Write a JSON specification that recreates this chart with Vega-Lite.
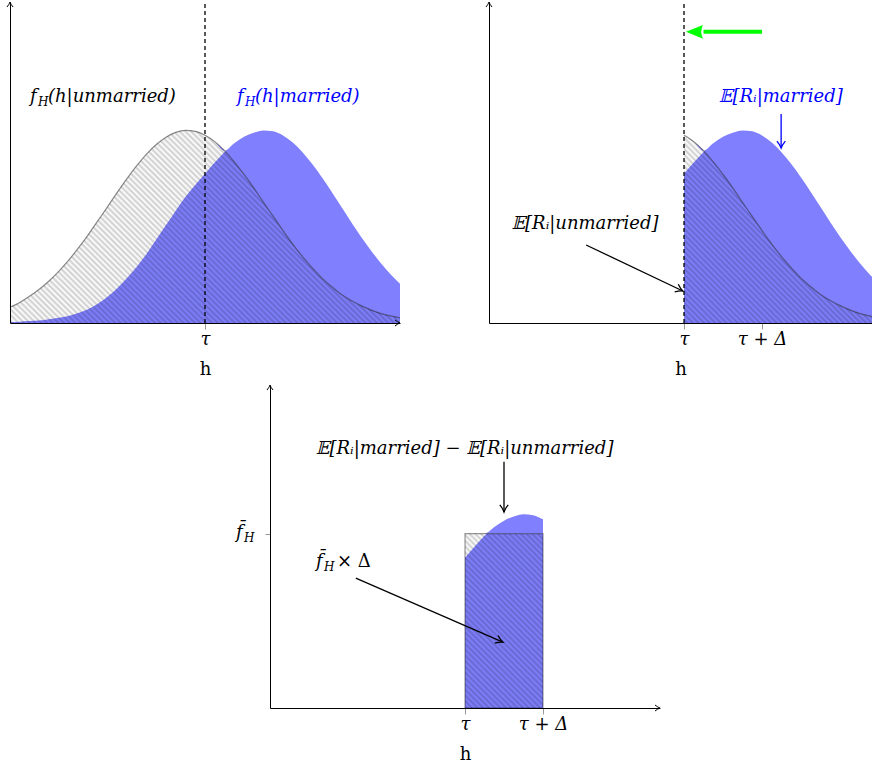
{
"$schema":"https://vega.github.io/schema/vega-lite/v6.json",
"padding":{"left":5,"top":0,"right":0,"bottom":0},
"spacing":5,
"datasets":{
"curves":[
{"x":0,"u":0.049,"m":0.003,"mb":0.049},{"x":0.25,"u":0.064,"m":0.004,"mb":0.064},{"x":0.5,"u":0.083,"m":0.006,"mb":0.083},{"x":0.75,"u":0.105,"m":0.008,"mb":0.105},
{"x":1,"u":0.131,"m":0.012,"mb":0.131},{"x":1.25,"u":0.161,"m":0.016,"mb":0.161},{"x":1.5,"u":0.195,"m":0.022,"mb":0.195},{"x":1.75,"u":0.233,"m":0.031,"mb":0.233},
{"x":2,"u":0.274,"m":0.043,"mb":0.274},{"x":2.25,"u":0.318,"m":0.06,"mb":0.318},{"x":2.5,"u":0.362,"m":0.082,"mb":0.362},{"x":2.75,"u":0.407,"m":0.108,"mb":0.407},
{"x":3,"u":0.45,"m":0.14,"mb":0.45},{"x":3.25,"u":0.49,"m":0.175,"mb":0.49},{"x":3.5,"u":0.526,"m":0.215,"mb":0.526},{"x":3.75,"u":0.556,"m":0.26,"mb":0.556},
{"x":4,"u":0.579,"m":0.305,"mb":0.579},{"x":4.25,"u":0.594,"m":0.35,"mb":0.594},{"x":4.5,"u":0.6,"m":0.393,"mb":0.6},{"x":4.75,"u":0.597,"m":0.43,"mb":0.597},
{"x":5,"u":0.585,"m":0.465,"mb":0.585},{"x":5.25,"u":0.565,"m":0.5,"mb":0.565},{"x":5.5,"u":0.537,"m":0.533,"mb":0.537},{"x":5.75,"u":0.502,"m":0.56,"mb":0.56},
{"x":6,"u":0.463,"m":0.58,"mb":0.58},{"x":6.25,"u":0.421,"m":0.593,"mb":0.593},{"x":6.5,"u":0.376,"m":0.6,"mb":0.6},{"x":6.75,"u":0.332,"m":0.597,"mb":0.597},
{"x":7,"u":0.288,"m":0.584,"mb":0.584},{"x":7.25,"u":0.246,"m":0.562,"mb":0.562},{"x":7.5,"u":0.207,"m":0.532,"mb":0.532},{"x":7.75,"u":0.172,"m":0.495,"mb":0.495},
{"x":8,"u":0.14,"m":0.453,"mb":0.453},{"x":8.25,"u":0.113,"m":0.408,"mb":0.408},{"x":8.5,"u":0.089,"m":0.361,"mb":0.361},{"x":8.75,"u":0.07,"m":0.314,"mb":0.314},
{"x":9,"u":0.054,"m":0.269,"mb":0.269},{"x":9.25,"u":0.041,"m":0.227,"mb":0.227},{"x":9.5,"u":0.03,"m":0.188,"mb":0.188},{"x":9.75,"u":0.022,"m":0.153,"mb":0.153},
{"x":10,"u":0.016,"m":0.122,"mb":0.122}
],
"cc":[
{"x":5,"m":0.465,"mc":0.54},{"x":5.25,"m":0.5,"mc":0.54},{"x":5.5,"m":0.533,"mc":0.54},{"x":5.6,"m":0.545,"mc":0.545},{"x":5.75,"m":0.56,"mc":0.56},
{"x":6,"m":0.58,"mc":0.58},{"x":6.25,"m":0.593,"mc":0.593},{"x":6.5,"m":0.6,"mc":0.6},{"x":6.75,"m":0.597,"mc":0.597},{"x":7,"m":0.584,"mc":0.584}
]
},
"vconcat":[
{"bounds":"flush","hconcat":[
{"width":390,"height":321,"layer":[
{"data":{"name":"curves"},"mark":{"type":"area","color":"#8080ff","opacity":1,"interpolate":"monotone"},"encoding":{"x":{"field":"x","type":"quantitative","scale":{"domain":[0,10],"nice":false,"zero":false},"axis":{"values":[5],"labelExpr":"'τ'","title":"h","tickSize":6,"labelPadding":1,"titlePadding":12,"zindex":1}},"y":{"field":"m","type":"quantitative","scale":{"domain":[0,1],"nice":false,"zero":false},"axis":{"ticks":false,"labels":false,"title":null,"zindex":1}}}},
{"data":{"values":[{}]},"mark":{"type":"rect","opacity":1},"encoding":{"x":{"datum":0,"type":"quantitative","scale":{"domain":[0,10],"nice":false,"zero":false}},"x2":{"datum":10},"y":{"datum":0,"type":"quantitative","scale":{"domain":[0,1],"nice":false,"zero":false}},"y2":{"datum":1}}},
{"data":{"name":"curves"},"mark":{"type":"area","color":"#ffffff","opacity":1,"interpolate":"monotone"},"encoding":{"x":{"field":"x","type":"quantitative","scale":{"domain":[0,10],"nice":false,"zero":false}},"y":{"field":"u","type":"quantitative","scale":{"domain":[0,1],"nice":false,"zero":false}},"y2":{"datum":1}}},
{"data":{"name":"curves"},"mark":{"type":"area","color":"#8080ff","opacity":1,"interpolate":"monotone"},"encoding":{"x":{"field":"x","type":"quantitative","scale":{"domain":[0,10],"nice":false,"zero":false}},"y":{"field":"mb","type":"quantitative","scale":{"domain":[0,1],"nice":false,"zero":false}},"y2":{"field":"u"}}},
{"data":{"name":"curves"},"mark":{"type":"line","color":"#000","strokeOpacity":0.45,"strokeWidth":1.2,"interpolate":"monotone"},"encoding":{"x":{"field":"x","type":"quantitative","scale":{"domain":[0,10],"nice":false,"zero":false}},"y":{"field":"u","type":"quantitative","scale":{"domain":[0,1],"nice":false,"zero":false}}}},
{"data":{"values":[{}]},"mark":{"type":"rule","color":"#000","strokeDash":[4,3],"strokeWidth":1.3},"encoding":{"x":{"datum":5,"type":"quantitative","scale":{"domain":[0,10],"nice":false,"zero":false}},"y":{"datum":0,"type":"quantitative","scale":{"domain":[0,1],"nice":false,"zero":false}},"y2":{"datum":1}}},
{"data":{"values":[{}]},"mark":{"type":"point","shape":"M-1,-0.6Q-0.45,-0.15 0,0Q-0.45,0.15 -1,0.6","size":100,"angle":270,"filled":false,"color":"#000","strokeWidth":1,"opacity":1},"encoding":{"x":{"datum":0,"type":"quantitative","scale":{"domain":[0,10],"nice":false,"zero":false}},"y":{"datum":1,"type":"quantitative","scale":{"domain":[0,1],"nice":false,"zero":false}}}},
{"data":{"values":[{}]},"mark":{"type":"point","shape":"M-1,-0.6Q-0.45,-0.15 0,0Q-0.45,0.15 -1,0.6","size":100,"angle":0,"filled":false,"color":"#000","strokeWidth":1,"opacity":1},"encoding":{"x":{"datum":10,"type":"quantitative","scale":{"domain":[0,10],"nice":false,"zero":false}},"y":{"datum":0,"type":"quantitative","scale":{"domain":[0,1],"nice":false,"zero":false}}}},
{"data":{"values":[{}]},"mark":{"type":"text","text":"f","align":"left","color":"#000"},"encoding":{"x":{"datum":0.513,"type":"quantitative","scale":{"domain":[0,10],"nice":false,"zero":false}},"y":{"datum":0.704,"type":"quantitative","scale":{"domain":[0,1],"nice":false,"zero":false}}}},
{"data":{"values":[{}]},"mark":{"type":"text","text":"H","align":"left","dx":8,"dy":5,"fontSize":12,"color":"#000"},"encoding":{"x":{"datum":0.513,"type":"quantitative","scale":{"domain":[0,10],"nice":false,"zero":false}},"y":{"datum":0.704,"type":"quantitative","scale":{"domain":[0,1],"nice":false,"zero":false}}}},
{"data":{"values":[{}]},"mark":{"type":"text","text":"(h|unmarried)","align":"left","dx":18,"color":"#000"},"encoding":{"x":{"datum":0.513,"type":"quantitative","scale":{"domain":[0,10],"nice":false,"zero":false}},"y":{"datum":0.704,"type":"quantitative","scale":{"domain":[0,1],"nice":false,"zero":false}}}},
{"data":{"values":[{}]},"mark":{"type":"text","text":"f","align":"left","color":"#0000ff"},"encoding":{"x":{"datum":5.82,"type":"quantitative","scale":{"domain":[0,10],"nice":false,"zero":false}},"y":{"datum":0.704,"type":"quantitative","scale":{"domain":[0,1],"nice":false,"zero":false}}}},
{"data":{"values":[{}]},"mark":{"type":"text","text":"H","align":"left","dx":8,"dy":5,"fontSize":12,"color":"#0000ff"},"encoding":{"x":{"datum":5.82,"type":"quantitative","scale":{"domain":[0,10],"nice":false,"zero":false}},"y":{"datum":0.704,"type":"quantitative","scale":{"domain":[0,1],"nice":false,"zero":false}}}},
{"data":{"values":[{}]},"mark":{"type":"text","text":"(h|married)","align":"left","dx":18,"color":"#0000ff"},"encoding":{"x":{"datum":5.82,"type":"quantitative","scale":{"domain":[0,10],"nice":false,"zero":false}},"y":{"datum":0.704,"type":"quantitative","scale":{"domain":[0,1],"nice":false,"zero":false}}}}
]},
{"width":383,"height":321,"layer":[
{"data":{"name":"curves"},"transform":[{"filter":"datum.x >= 5"}],"mark":{"type":"area","color":"#8080ff","opacity":1,"interpolate":"monotone","clip":true},"encoding":{"x":{"field":"x","type":"quantitative","scale":{"domain":[0,9.82],"nice":false,"zero":false},"axis":{"values":[5,7],"labelExpr":"datum.value == 5 ? 'τ' : 'τ + Δ'","title":"h","tickSize":6,"labelPadding":1,"titlePadding":12,"zindex":1}},"y":{"field":"m","type":"quantitative","scale":{"domain":[0,1],"nice":false,"zero":false},"axis":{"ticks":false,"labels":false,"title":null,"zindex":1}}}},
{"data":{"values":[{}]},"mark":{"type":"rect","opacity":1},"encoding":{"x":{"datum":0,"type":"quantitative","scale":{"domain":[0,9.82],"nice":false,"zero":false}},"x2":{"datum":9.82},"y":{"datum":0,"type":"quantitative","scale":{"domain":[0,1],"nice":false,"zero":false}},"y2":{"datum":1}}},
{"data":{"values":[{}]},"mark":{"type":"rect","fill":"#ffffff","opacity":1},"encoding":{"x":{"datum":0,"type":"quantitative","scale":{"domain":[0,9.82],"nice":false,"zero":false}},"x2":{"datum":5},"y":{"datum":0,"type":"quantitative","scale":{"domain":[0,1],"nice":false,"zero":false}},"y2":{"datum":1}}},
{"data":{"name":"curves"},"transform":[{"filter":"datum.x >= 5"}],"mark":{"type":"area","color":"#ffffff","opacity":1,"interpolate":"monotone","clip":true},"encoding":{"x":{"field":"x","type":"quantitative","scale":{"domain":[0,9.82],"nice":false,"zero":false}},"y":{"field":"u","type":"quantitative","scale":{"domain":[0,1],"nice":false,"zero":false}},"y2":{"datum":1}}},
{"data":{"name":"curves"},"transform":[{"filter":"datum.x >= 5"}],"mark":{"type":"area","color":"#8080ff","opacity":1,"interpolate":"monotone","clip":true},"encoding":{"x":{"field":"x","type":"quantitative","scale":{"domain":[0,9.82],"nice":false,"zero":false}},"y":{"field":"mb","type":"quantitative","scale":{"domain":[0,1],"nice":false,"zero":false}},"y2":{"field":"u"}}},
{"data":{"name":"curves"},"transform":[{"filter":"datum.x >= 5"}],"mark":{"type":"line","color":"#000","strokeOpacity":0.45,"strokeWidth":1.2,"interpolate":"monotone","clip":true},"encoding":{"x":{"field":"x","type":"quantitative","scale":{"domain":[0,9.82],"nice":false,"zero":false}},"y":{"field":"u","type":"quantitative","scale":{"domain":[0,1],"nice":false,"zero":false}}}},
{"data":{"values":[{}]},"mark":{"type":"rule","color":"#000","strokeDash":[4,3],"strokeWidth":1.3},"encoding":{"x":{"datum":5,"type":"quantitative","scale":{"domain":[0,9.82],"nice":false,"zero":false}},"y":{"datum":0,"type":"quantitative","scale":{"domain":[0,1],"nice":false,"zero":false}},"y2":{"datum":1}}},
{"data":{"values":[{}]},"mark":{"type":"point","shape":"M-1,-0.6Q-0.45,-0.15 0,0Q-0.45,0.15 -1,0.6","size":100,"angle":270,"filled":false,"color":"#000","strokeWidth":1,"opacity":1},"encoding":{"x":{"datum":0,"type":"quantitative","scale":{"domain":[0,9.82],"nice":false,"zero":false}},"y":{"datum":1,"type":"quantitative","scale":{"domain":[0,1],"nice":false,"zero":false}}}},
{"data":{"values":[{}]},"mark":{"type":"rule","color":"#00ff00","strokeWidth":4},"encoding":{"x":{"datum":7.0,"type":"quantitative","scale":{"domain":[0,9.82],"nice":false,"zero":false}},"x2":{"datum":5.5},"y":{"datum":0.907,"type":"quantitative","scale":{"domain":[0,1],"nice":false,"zero":false}}}},
{"data":{"values":[{}]},"mark":{"type":"point","shape":"M0,0L-1,-0.4Q-0.8,0 -1,0.4Z","size":1156,"angle":180,"filled":true,"color":"#00ff00","strokeWidth":0,"opacity":1},"encoding":{"x":{"datum":5.05,"type":"quantitative","scale":{"domain":[0,9.82],"nice":false,"zero":false}},"y":{"datum":0.907,"type":"quantitative","scale":{"domain":[0,1],"nice":false,"zero":false}}}},
{"data":{"values":[{}]},"mark":{"type":"text","text":"𝔼[Rᵢ|married]","color":"#0000ff"},"encoding":{"x":{"datum":7.48,"type":"quantitative","scale":{"domain":[0,9.82],"nice":false,"zero":false}},"y":{"datum":0.704,"type":"quantitative","scale":{"domain":[0,1],"nice":false,"zero":false}}}},
{"data":{"values":[{}]},"mark":{"type":"rule","color":"#0000ff","strokeWidth":1.3},"encoding":{"x":{"datum":7.49,"type":"quantitative","scale":{"domain":[0,9.82],"nice":false,"zero":false}},"y":{"datum":0.651,"type":"quantitative","scale":{"domain":[0,1],"nice":false,"zero":false}},"y2":{"datum":0.545}}},
{"data":{"values":[{}]},"mark":{"type":"point","shape":"M-1,-0.6Q-0.45,-0.15 0,0Q-0.45,0.15 -1,0.6","size":196,"angle":90,"filled":false,"color":"#0000ff","strokeWidth":1.3,"opacity":1},"encoding":{"x":{"datum":7.49,"type":"quantitative","scale":{"domain":[0,9.82],"nice":false,"zero":false}},"y":{"datum":0.545,"type":"quantitative","scale":{"domain":[0,1],"nice":false,"zero":false}}}},
{"data":{"values":[{}]},"mark":{"type":"text","text":"𝔼[Rᵢ|unmarried]","color":"#000"},"encoding":{"x":{"datum":2.46,"type":"quantitative","scale":{"domain":[0,9.82],"nice":false,"zero":false}},"y":{"datum":0.308,"type":"quantitative","scale":{"domain":[0,1],"nice":false,"zero":false}}}},
{"data":{"values":[{}]},"mark":{"type":"rule","color":"#000","strokeWidth":1.3},"encoding":{"x":{"datum":2.49,"type":"quantitative","scale":{"domain":[0,9.82],"nice":false,"zero":false}},"y":{"datum":0.243,"type":"quantitative","scale":{"domain":[0,1],"nice":false,"zero":false}},"x2":{"datum":4.97},"y2":{"datum":0.0997}}},
{"data":{"values":[{}]},"mark":{"type":"point","shape":"M-1,-0.6Q-0.45,-0.15 0,0Q-0.45,0.15 -1,0.6","size":196,"angle":25,"filled":false,"color":"#000","strokeWidth":1.3,"opacity":1},"encoding":{"x":{"datum":4.97,"type":"quantitative","scale":{"domain":[0,9.82],"nice":false,"zero":false}},"y":{"datum":0.0997,"type":"quantitative","scale":{"domain":[0,1],"nice":false,"zero":false}}}}
]}
],"spacing":89},
{"bounds":"flush","hconcat":[
{"width":250,"height":323,"data":{"values":[]},"mark":{"type":"point","opacity":0},"encoding":{}},
{"width":390,"height":323,"layer":[
{"data":{"name":"cc"},"mark":{"type":"area","color":"#8080ff","opacity":1,"interpolate":"monotone"},"encoding":{"x":{"field":"x","type":"quantitative","scale":{"domain":[0,10],"nice":false,"zero":false},"axis":{"values":[5,7],"labelExpr":"datum.value == 5 ? 'τ' : 'τ + Δ'","title":"h","tickSize":6,"labelPadding":1,"titlePadding":12,"zindex":1}},"y":{"field":"m","type":"quantitative","scale":{"domain":[0,1],"nice":false,"zero":false},"axis":{"values":[0.54],"tickSize":5,"labels":false,"title":null,"zindex":1}}}},
{"data":{"values":[{}]},"mark":{"type":"rect","opacity":1},"encoding":{"x":{"datum":0,"type":"quantitative","scale":{"domain":[0,10],"nice":false,"zero":false}},"x2":{"datum":10},"y":{"datum":0,"type":"quantitative","scale":{"domain":[0,1],"nice":false,"zero":false}},"y2":{"datum":1}}},
{"data":{"values":[{}]},"mark":{"type":"rect","fill":"#ffffff","opacity":1},"encoding":{"x":{"datum":0,"type":"quantitative","scale":{"domain":[0,10],"nice":false,"zero":false}},"x2":{"datum":5},"y":{"datum":0,"type":"quantitative","scale":{"domain":[0,1],"nice":false,"zero":false}},"y2":{"datum":1}}},
{"data":{"values":[{}]},"mark":{"type":"rect","fill":"#ffffff","opacity":1},"encoding":{"x":{"datum":7,"type":"quantitative","scale":{"domain":[0,10],"nice":false,"zero":false}},"x2":{"datum":10},"y":{"datum":0,"type":"quantitative","scale":{"domain":[0,1],"nice":false,"zero":false}},"y2":{"datum":1}}},
{"data":{"values":[{}]},"mark":{"type":"rect","fill":"#ffffff","opacity":1},"encoding":{"x":{"datum":5,"type":"quantitative","scale":{"domain":[0,10],"nice":false,"zero":false}},"x2":{"datum":7},"y":{"datum":0.54,"type":"quantitative","scale":{"domain":[0,1],"nice":false,"zero":false}},"y2":{"datum":1}}},
{"data":{"name":"cc"},"mark":{"type":"area","color":"#8080ff","opacity":1,"interpolate":"monotone"},"encoding":{"x":{"field":"x","type":"quantitative","scale":{"domain":[0,10],"nice":false,"zero":false}},"y":{"field":"mc","type":"quantitative","scale":{"domain":[0,1],"nice":false,"zero":false}},"y2":{"datum":0.54}}},
{"data":{"values":[{}]},"mark":{"type":"rect","fill":"#ffffff","fillOpacity":0,"stroke":"#000","strokeOpacity":0.4,"strokeWidth":1.2},"encoding":{"x":{"datum":5,"type":"quantitative","scale":{"domain":[0,10],"nice":false,"zero":false}},"x2":{"datum":7},"y":{"datum":0,"type":"quantitative","scale":{"domain":[0,1],"nice":false,"zero":false}},"y2":{"datum":0.54}}},
{"data":{"values":[{}]},"mark":{"type":"point","shape":"M-1,-0.6Q-0.45,-0.15 0,0Q-0.45,0.15 -1,0.6","size":100,"angle":270,"filled":false,"color":"#000","strokeWidth":1,"opacity":1},"encoding":{"x":{"datum":0,"type":"quantitative","scale":{"domain":[0,10],"nice":false,"zero":false}},"y":{"datum":1,"type":"quantitative","scale":{"domain":[0,1],"nice":false,"zero":false}}}},
{"data":{"values":[{}]},"mark":{"type":"point","shape":"M-1,-0.6Q-0.45,-0.15 0,0Q-0.45,0.15 -1,0.6","size":100,"angle":0,"filled":false,"color":"#000","strokeWidth":1,"opacity":1},"encoding":{"x":{"datum":10,"type":"quantitative","scale":{"domain":[0,10],"nice":false,"zero":false}},"y":{"datum":0,"type":"quantitative","scale":{"domain":[0,1],"nice":false,"zero":false}}}},
{"data":{"values":[{}]},"mark":{"type":"text","text":"𝔼[Rᵢ|married] − 𝔼[Rᵢ|unmarried]","color":"#000"},"encoding":{"x":{"datum":4.99,"type":"quantitative","scale":{"domain":[0,10],"nice":false,"zero":false}},"y":{"datum":0.802,"type":"quantitative","scale":{"domain":[0,1],"nice":false,"zero":false}}}},
{"data":{"values":[{}]},"mark":{"type":"rule","color":"#000","strokeWidth":1.3},"encoding":{"x":{"datum":6.0,"type":"quantitative","scale":{"domain":[0,10],"nice":false,"zero":false}},"y":{"datum":0.762,"type":"quantitative","scale":{"domain":[0,1],"nice":false,"zero":false}},"y2":{"datum":0.607}}},
{"data":{"values":[{}]},"mark":{"type":"point","shape":"M-1,-0.6Q-0.45,-0.15 0,0Q-0.45,0.15 -1,0.6","size":196,"angle":90,"filled":false,"color":"#000","strokeWidth":1.3,"opacity":1},"encoding":{"x":{"datum":6.0,"type":"quantitative","scale":{"domain":[0,10],"nice":false,"zero":false}},"y":{"datum":0.607,"type":"quantitative","scale":{"domain":[0,1],"nice":false,"zero":false}}}},
{"data":{"values":[{}]},"mark":{"type":"text","text":"f\u0304","align":"left","color":"#000"},"encoding":{"x":{"datum":1.18,"type":"quantitative","scale":{"domain":[0,10],"nice":false,"zero":false}},"y":{"datum":0.452,"type":"quantitative","scale":{"domain":[0,1],"nice":false,"zero":false}}}},
{"data":{"values":[{}]},"mark":{"type":"text","text":"H","align":"left","dx":8,"dy":5,"fontSize":12,"color":"#000"},"encoding":{"x":{"datum":1.18,"type":"quantitative","scale":{"domain":[0,10],"nice":false,"zero":false}},"y":{"datum":0.452,"type":"quantitative","scale":{"domain":[0,1],"nice":false,"zero":false}}}},
{"data":{"values":[{}]},"mark":{"type":"text","text":"× Δ","align":"left","dx":21,"fontStyle":"normal","color":"#000"},"encoding":{"x":{"datum":1.18,"type":"quantitative","scale":{"domain":[0,10],"nice":false,"zero":false}},"y":{"datum":0.452,"type":"quantitative","scale":{"domain":[0,1],"nice":false,"zero":false}}}},
{"data":{"values":[{}]},"mark":{"type":"rule","color":"#000","strokeWidth":1.3},"encoding":{"x":{"datum":2.2,"type":"quantitative","scale":{"domain":[0,10],"nice":false,"zero":false}},"y":{"datum":0.402,"type":"quantitative","scale":{"domain":[0,1],"nice":false,"zero":false}},"x2":{"datum":5.97},"y2":{"datum":0.204}}},
{"data":{"values":[{}]},"mark":{"type":"point","shape":"M-1,-0.6Q-0.45,-0.15 0,0Q-0.45,0.15 -1,0.6","size":196,"angle":23.5,"filled":false,"color":"#000","strokeWidth":1.3,"opacity":1},"encoding":{"x":{"datum":5.97,"type":"quantitative","scale":{"domain":[0,10],"nice":false,"zero":false}},"y":{"datum":0.204,"type":"quantitative","scale":{"domain":[0,1],"nice":false,"zero":false}}}},
{"data":{"values":[{}]},"mark":{"type":"text","text":"f\u0304","align":"left","color":"#000"},"encoding":{"x":{"datum":-0.87,"type":"quantitative","scale":{"domain":[0,10],"nice":false,"zero":false}},"y":{"datum":0.542,"type":"quantitative","scale":{"domain":[0,1],"nice":false,"zero":false}}}},
{"data":{"values":[{}]},"mark":{"type":"text","text":"H","align":"left","dx":8,"dy":5,"fontSize":12,"color":"#000"},"encoding":{"x":{"datum":-0.87,"type":"quantitative","scale":{"domain":[0,10],"nice":false,"zero":false}},"y":{"datum":0.542,"type":"quantitative","scale":{"domain":[0,1],"nice":false,"zero":false}}}}
]}
],"spacing":10}
],
"config":{
"view":{"stroke":null},
"axis":{"grid":false,"domainColor":"#000","domainWidth":1,"tickColor":"#999","labelFont":"DejaVu Serif","labelFontSize":18,"labelFontStyle":"italic","labelColor":"#000","labelFlush":false,"labelOverlap":false,"titleFont":"DejaVu Serif","titleFontSize":18,"titleFontWeight":"normal","titleColor":"#000"},
"text":{"font":"DejaVu Serif","fontSize":18,"fontStyle":"italic","baseline":"middle"},
"rect":{"fill":{"gradient":"linear","x1":0,"y1":1,"x2":1.087,"y2":0.105,"stops":[
{"offset":0,"color":"#0000"},{"offset":0.004,"color":"#0003"},{"offset":0.008,"color":"#0000"},{"offset":0.012,"color":"#0003"},{"offset":0.016,"color":"#0000"},{"offset":0.02,"color":"#0003"},{"offset":0.024,"color":"#0000"},{"offset":0.028,"color":"#0003"},{"offset":0.032,"color":"#0000"},{"offset":0.036,"color":"#0003"},
{"offset":0.04,"color":"#0000"},{"offset":0.044,"color":"#0003"},{"offset":0.048,"color":"#0000"},{"offset":0.052,"color":"#0003"},{"offset":0.056,"color":"#0000"},{"offset":0.06,"color":"#0003"},{"offset":0.064,"color":"#0000"},{"offset":0.068,"color":"#0003"},{"offset":0.072,"color":"#0000"},{"offset":0.076,"color":"#0003"},
{"offset":0.08,"color":"#0000"},{"offset":0.084,"color":"#0003"},{"offset":0.088,"color":"#0000"},{"offset":0.092,"color":"#0003"},{"offset":0.096,"color":"#0000"},{"offset":0.1,"color":"#0003"},{"offset":0.104,"color":"#0000"},{"offset":0.108,"color":"#0003"},{"offset":0.112,"color":"#0000"},{"offset":0.116,"color":"#0003"},
{"offset":0.12,"color":"#0000"},{"offset":0.124,"color":"#0003"},{"offset":0.128,"color":"#0000"},{"offset":0.132,"color":"#0003"},{"offset":0.136,"color":"#0000"},{"offset":0.14,"color":"#0003"},{"offset":0.144,"color":"#0000"},{"offset":0.148,"color":"#0003"},{"offset":0.152,"color":"#0000"},{"offset":0.156,"color":"#0003"},
{"offset":0.16,"color":"#0000"},{"offset":0.164,"color":"#0003"},{"offset":0.168,"color":"#0000"},{"offset":0.172,"color":"#0003"},{"offset":0.176,"color":"#0000"},{"offset":0.18,"color":"#0003"},{"offset":0.184,"color":"#0000"},{"offset":0.188,"color":"#0003"},{"offset":0.192,"color":"#0000"},{"offset":0.196,"color":"#0003"},
{"offset":0.2,"color":"#0000"},{"offset":0.204,"color":"#0003"},{"offset":0.208,"color":"#0000"},{"offset":0.212,"color":"#0003"},{"offset":0.216,"color":"#0000"},{"offset":0.22,"color":"#0003"},{"offset":0.224,"color":"#0000"},{"offset":0.228,"color":"#0003"},{"offset":0.232,"color":"#0000"},{"offset":0.236,"color":"#0003"},
{"offset":0.24,"color":"#0000"},{"offset":0.244,"color":"#0003"},{"offset":0.248,"color":"#0000"},{"offset":0.252,"color":"#0003"},{"offset":0.256,"color":"#0000"},{"offset":0.26,"color":"#0003"},{"offset":0.264,"color":"#0000"},{"offset":0.268,"color":"#0003"},{"offset":0.272,"color":"#0000"},{"offset":0.276,"color":"#0003"},
{"offset":0.28,"color":"#0000"},{"offset":0.284,"color":"#0003"},{"offset":0.288,"color":"#0000"},{"offset":0.292,"color":"#0003"},{"offset":0.296,"color":"#0000"},{"offset":0.3,"color":"#0003"},{"offset":0.304,"color":"#0000"},{"offset":0.308,"color":"#0003"},{"offset":0.312,"color":"#0000"},{"offset":0.316,"color":"#0003"},
{"offset":0.32,"color":"#0000"},{"offset":0.324,"color":"#0003"},{"offset":0.328,"color":"#0000"},{"offset":0.332,"color":"#0003"},{"offset":0.336,"color":"#0000"},{"offset":0.34,"color":"#0003"},{"offset":0.344,"color":"#0000"},{"offset":0.348,"color":"#0003"},{"offset":0.352,"color":"#0000"},{"offset":0.356,"color":"#0003"},
{"offset":0.36,"color":"#0000"},{"offset":0.364,"color":"#0003"},{"offset":0.368,"color":"#0000"},{"offset":0.372,"color":"#0003"},{"offset":0.376,"color":"#0000"},{"offset":0.38,"color":"#0003"},{"offset":0.384,"color":"#0000"},{"offset":0.388,"color":"#0003"},{"offset":0.392,"color":"#0000"},{"offset":0.396,"color":"#0003"},
{"offset":0.4,"color":"#0000"},{"offset":0.404,"color":"#0003"},{"offset":0.408,"color":"#0000"},{"offset":0.412,"color":"#0003"},{"offset":0.416,"color":"#0000"},{"offset":0.42,"color":"#0003"},{"offset":0.424,"color":"#0000"},{"offset":0.428,"color":"#0003"},{"offset":0.432,"color":"#0000"},{"offset":0.436,"color":"#0003"},
{"offset":0.44,"color":"#0000"},{"offset":0.444,"color":"#0003"},{"offset":0.448,"color":"#0000"},{"offset":0.452,"color":"#0003"},{"offset":0.456,"color":"#0000"},{"offset":0.46,"color":"#0003"},{"offset":0.464,"color":"#0000"},{"offset":0.468,"color":"#0003"},{"offset":0.472,"color":"#0000"},{"offset":0.476,"color":"#0003"},
{"offset":0.48,"color":"#0000"},{"offset":0.484,"color":"#0003"},{"offset":0.488,"color":"#0000"},{"offset":0.492,"color":"#0003"},{"offset":0.496,"color":"#0000"},{"offset":0.5,"color":"#0003"},{"offset":0.504,"color":"#0000"},{"offset":0.508,"color":"#0003"},{"offset":0.512,"color":"#0000"},{"offset":0.516,"color":"#0003"},
{"offset":0.52,"color":"#0000"},{"offset":0.524,"color":"#0003"},{"offset":0.528,"color":"#0000"},{"offset":0.532,"color":"#0003"},{"offset":0.536,"color":"#0000"},{"offset":0.54,"color":"#0003"},{"offset":0.544,"color":"#0000"},{"offset":0.548,"color":"#0003"},{"offset":0.552,"color":"#0000"},{"offset":0.556,"color":"#0003"},
{"offset":0.56,"color":"#0000"},{"offset":0.564,"color":"#0003"},{"offset":0.568,"color":"#0000"},{"offset":0.572,"color":"#0003"},{"offset":0.576,"color":"#0000"},{"offset":0.58,"color":"#0003"},{"offset":0.584,"color":"#0000"},{"offset":0.588,"color":"#0003"},{"offset":0.592,"color":"#0000"},{"offset":0.596,"color":"#0003"},
{"offset":0.6,"color":"#0000"},{"offset":0.604,"color":"#0003"},{"offset":0.608,"color":"#0000"},{"offset":0.612,"color":"#0003"},{"offset":0.616,"color":"#0000"},{"offset":0.62,"color":"#0003"},{"offset":0.624,"color":"#0000"},{"offset":0.628,"color":"#0003"},{"offset":0.632,"color":"#0000"},{"offset":0.636,"color":"#0003"},
{"offset":0.64,"color":"#0000"},{"offset":0.644,"color":"#0003"},{"offset":0.648,"color":"#0000"},{"offset":0.652,"color":"#0003"},{"offset":0.656,"color":"#0000"},{"offset":0.66,"color":"#0003"},{"offset":0.664,"color":"#0000"},{"offset":0.668,"color":"#0003"},{"offset":0.672,"color":"#0000"},{"offset":0.676,"color":"#0003"},
{"offset":0.68,"color":"#0000"},{"offset":0.684,"color":"#0003"},{"offset":0.688,"color":"#0000"},{"offset":0.692,"color":"#0003"},{"offset":0.696,"color":"#0000"},{"offset":0.7,"color":"#0003"},{"offset":0.704,"color":"#0000"},{"offset":0.708,"color":"#0003"},{"offset":0.712,"color":"#0000"},{"offset":0.716,"color":"#0003"},
{"offset":0.72,"color":"#0000"},{"offset":0.724,"color":"#0003"},{"offset":0.728,"color":"#0000"},{"offset":0.732,"color":"#0003"},{"offset":0.736,"color":"#0000"},{"offset":0.74,"color":"#0003"},{"offset":0.744,"color":"#0000"},{"offset":0.748,"color":"#0003"},{"offset":0.752,"color":"#0000"},{"offset":0.756,"color":"#0003"},
{"offset":0.76,"color":"#0000"},{"offset":0.764,"color":"#0003"},{"offset":0.768,"color":"#0000"},{"offset":0.772,"color":"#0003"},{"offset":0.776,"color":"#0000"},{"offset":0.78,"color":"#0003"},{"offset":0.784,"color":"#0000"},{"offset":0.788,"color":"#0003"},{"offset":0.792,"color":"#0000"},{"offset":0.796,"color":"#0003"},
{"offset":0.8,"color":"#0000"},{"offset":0.804,"color":"#0003"},{"offset":0.808,"color":"#0000"},{"offset":0.812,"color":"#0003"},{"offset":0.816,"color":"#0000"},{"offset":0.82,"color":"#0003"},{"offset":0.824,"color":"#0000"},{"offset":0.828,"color":"#0003"},{"offset":0.832,"color":"#0000"},{"offset":0.836,"color":"#0003"},
{"offset":0.84,"color":"#0000"},{"offset":0.844,"color":"#0003"},{"offset":0.848,"color":"#0000"},{"offset":0.852,"color":"#0003"},{"offset":0.856,"color":"#0000"},{"offset":0.86,"color":"#0003"},{"offset":0.864,"color":"#0000"},{"offset":0.868,"color":"#0003"},{"offset":0.872,"color":"#0000"},{"offset":0.876,"color":"#0003"},
{"offset":0.88,"color":"#0000"},{"offset":0.884,"color":"#0003"},{"offset":0.888,"color":"#0000"},{"offset":0.892,"color":"#0003"},{"offset":0.896,"color":"#0000"},{"offset":0.9,"color":"#0003"},{"offset":0.904,"color":"#0000"},{"offset":0.908,"color":"#0003"},{"offset":0.912,"color":"#0000"},{"offset":0.916,"color":"#0003"},
{"offset":0.92,"color":"#0000"},{"offset":0.924,"color":"#0003"},{"offset":0.928,"color":"#0000"},{"offset":0.932,"color":"#0003"},{"offset":0.936,"color":"#0000"},{"offset":0.94,"color":"#0003"},{"offset":0.944,"color":"#0000"},{"offset":0.948,"color":"#0003"},{"offset":0.952,"color":"#0000"},{"offset":0.956,"color":"#0003"},
{"offset":0.96,"color":"#0000"},{"offset":0.964,"color":"#0003"},{"offset":0.968,"color":"#0000"},{"offset":0.972,"color":"#0003"},{"offset":0.976,"color":"#0000"},{"offset":0.98,"color":"#0003"},{"offset":0.984,"color":"#0000"},{"offset":0.988,"color":"#0003"},{"offset":0.992,"color":"#0000"},{"offset":0.996,"color":"#0003"},
{"offset":1,"color":"#0000"}
]}}
}
}
